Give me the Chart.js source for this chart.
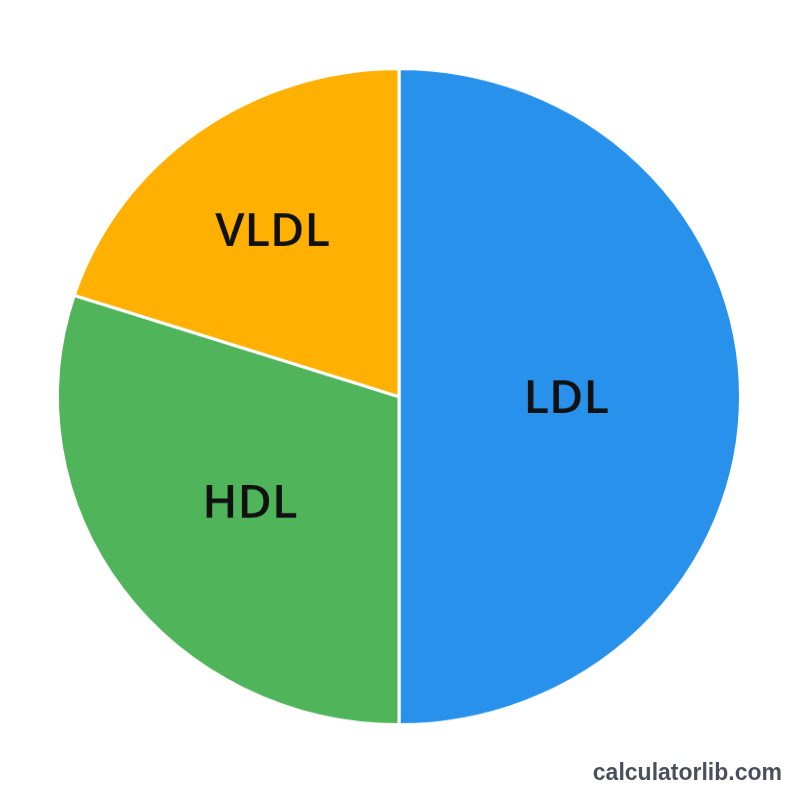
<!DOCTYPE html>
<html>
<head>
<meta charset="utf-8">
<title>Cholesterol breakdown</title>
<script src="https://cdn.jsdelivr.net/npm/chart.js@4.4.1/dist/chart.umd.min.js"></script>
<style>
  html, body { margin: 0; padding: 0; background: #ffffff; overflow: hidden; }
  #wrap { width: 800px; height: 800px; position: relative; }
  /* the reference pie is a touch flatter than it is wide */
  #pieChart { position: absolute; left: 0; top: 0; transform: scaleY(0.9604); transform-origin: 0 0; }
  #mark {
    position: absolute; right: 18px; top: 761px;
    font: bold 23px/23px "Liberation Sans", Arial, sans-serif;
    color: #4a505b; white-space: nowrap;
  }
</style>
</head>
<body>
<div id="wrap">
  <canvas id="pieChart" width="800" height="800"></canvas>
  <div id="mark">calculatorlib.com</div>
</div>
<script>
// Lipoprotein share of total cholesterol (percent)
const labels = ['LDL', 'HDL', 'VLDL'];
const shares = [50, 30, 20];
const colors = ['#2791ec', '#50b45b', '#ffb000'];

// draws slice names inside each slice
const sliceLabels = {
    id: 'sliceLabels',
    afterDatasetsDraw(chart, args, opts) {
        const ctx = chart.ctx;
        const meta = chart.getDatasetMeta(0);
        ctx.save();
        ctx.fillStyle = '#111111';
        ctx.font = '600 47px "Open Sans", "Noto Sans", sans-serif';
        ctx.textAlign = 'center';
        ctx.textBaseline = 'middle';
        meta.data.forEach((arc, i) => {
            const p = arc.getProps(['x', 'y', 'startAngle', 'endAngle', 'outerRadius'], true);
            const mid = (p.startAngle + p.endAngle) / 2;
            const r = p.outerRadius * (opts.radial[i] || 0.55);
            ctx.fillText(chart.data.labels[i], p.x + Math.cos(mid) * r, p.y + Math.sin(mid) * r + 4);
        });
        ctx.restore();
    }
};

const ctx = document.getElementById('pieChart');
const pieChart = new Chart(ctx, {
    type: 'pie',
    data: {
        labels: labels,
        datasets: [{
            data: shares,
            backgroundColor: colors,
            borderColor: '#ffffff',
            borderWidth: 3
        }]
    },
    options: {
        responsive: false,
        animation: false,
        layout: {
            padding: { top: 70, bottom: 44, left: 56, right: 58 }
        },
        plugins: {
            legend: { display: false },
            tooltip: { enabled: false },
            sliceLabels: { radial: [0.49, 0.54, 0.63] }
        }
    },
    plugins: [sliceLabels]
});
</script>
</body>
</html>
